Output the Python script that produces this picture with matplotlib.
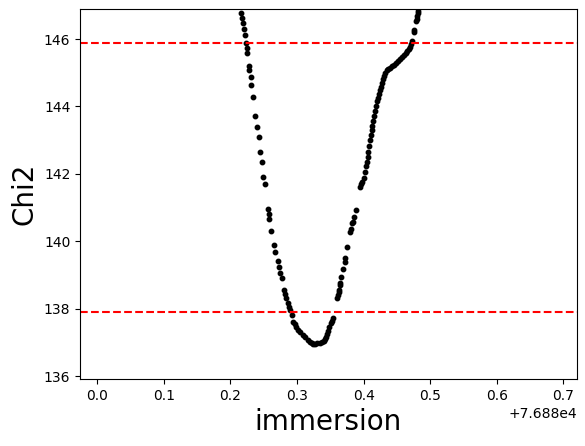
import matplotlib
matplotlib.use('Agg')
import matplotlib.pyplot as plt
import numpy as np

# immersion time offsets (relative to x_base) and chi2 values
x_base = 76880.0
t_off = [
	0.2161, 0.2171, 0.2186, 0.2201, 0.2221, 0.2231, 0.2246, 0.2255, 0.2281, 0.2285,
	0.2306, 0.2315, 0.2341, 0.2375, 0.2405, 0.2426, 0.2450, 0.2471, 0.2495, 0.2511,
	0.2562, 0.2574, 0.2581, 0.2611, 0.2661, 0.2676, 0.2716, 0.2731, 0.2746, 0.2769,
	0.2806, 0.2821, 0.2832, 0.2862, 0.2881, 0.2896, 0.2922, 0.2946, 0.2964, 0.2986,
	0.3016, 0.3047, 0.3084, 0.3122, 0.3159, 0.3197, 0.3227, 0.3246, 0.3272, 0.3306,
	0.3339, 0.3372, 0.3399, 0.3422, 0.3441, 0.3456, 0.3471, 0.3486, 0.3504, 0.3527,
	0.3538, 0.3598, 0.3613, 0.3628, 0.3632, 0.3647, 0.3652, 0.3667, 0.3697, 0.3718,
	0.3727, 0.3757, 0.3797, 0.3812, 0.3827, 0.3847, 0.3857, 0.3883, 0.3947, 0.3962,
	0.3982, 0.4000, 0.4023, 0.4038, 0.4048, 0.4060, 0.4072, 0.4086, 0.4098, 0.4110,
	0.4123, 0.4132, 0.4147, 0.4162, 0.4173, 0.4188, 0.4203, 0.4213, 0.4225, 0.4240,
	0.4255, 0.4273, 0.4288, 0.4308, 0.4323, 0.4345, 0.4368, 0.4398, 0.4428, 0.4458,
	0.4488, 0.4518, 0.4548, 0.4578, 0.4608, 0.4631, 0.4653, 0.4676, 0.4698, 0.4713,
	0.4724, 0.4751, 0.4763, 0.4788, 0.4799, 0.4808, 0.4814, 0.4821,
]
chi2 = [
	146.77, 146.62, 146.47, 146.30, 146.12, 145.88, 145.73, 145.58, 145.20, 145.08,
	144.87, 144.64, 144.28, 143.72, 143.39, 143.09, 142.65, 142.35, 141.90, 141.70,
	140.96, 140.81, 140.66, 140.31, 139.89, 139.69, 139.42, 139.24, 139.05, 138.90,
	138.55, 138.43, 138.31, 138.16, 138.05, 137.96, 137.81, 137.61, 137.54, 137.46,
	137.38, 137.31, 137.23, 137.17, 137.08, 137.02, 136.98, 136.95, 136.96, 136.97,
	136.99, 137.02, 137.04, 137.09, 137.17, 137.25, 137.35, 137.46, 137.56, 137.64,
	137.71, 138.31, 138.40, 138.50, 138.55, 138.70, 138.75, 138.95, 139.17, 139.39,
	139.49, 139.82, 140.28, 140.36, 140.53, 140.58, 140.73, 140.93, 141.62, 141.71,
	141.77, 141.88, 142.06, 142.23, 142.36, 142.50, 142.66, 142.82, 143.00, 143.15,
	143.30, 143.42, 143.57, 143.72, 143.86, 144.01, 144.16, 144.25, 144.37, 144.49,
	144.59, 144.71, 144.80, 144.90, 144.99, 145.07, 145.11, 145.15, 145.20, 145.24,
	145.30, 145.35, 145.40, 145.47, 145.53, 145.58, 145.64, 145.70, 145.77, 145.85,
	145.95, 146.22, 146.28, 146.52, 146.59, 146.68, 146.76, 146.83,
]
chi2_min = 136.89
sigma_levels = [1.0, 9.0]

fig = plt.figure(figsize=(5.85, 4.46), dpi=100)
ax = fig.add_axes([0.137, 0.150, 0.849, 0.829])
x = x_base + np.array(t_off)
ax.plot(x, chi2, 'o', color='k', ms=3.2, ls='none')
for lvl in sigma_levels:
	ax.axhline(chi2_min + lvl, color='r', ls='--')
ax.set_xlim(x_base - 0.0257, x_base + 0.72)
ax.set_ylim(135.91, 146.88)
ax.set_xlabel('immersion', fontsize=20)
ax.set_ylabel('Chi2', fontsize=20)
fig.savefig('out.png')
